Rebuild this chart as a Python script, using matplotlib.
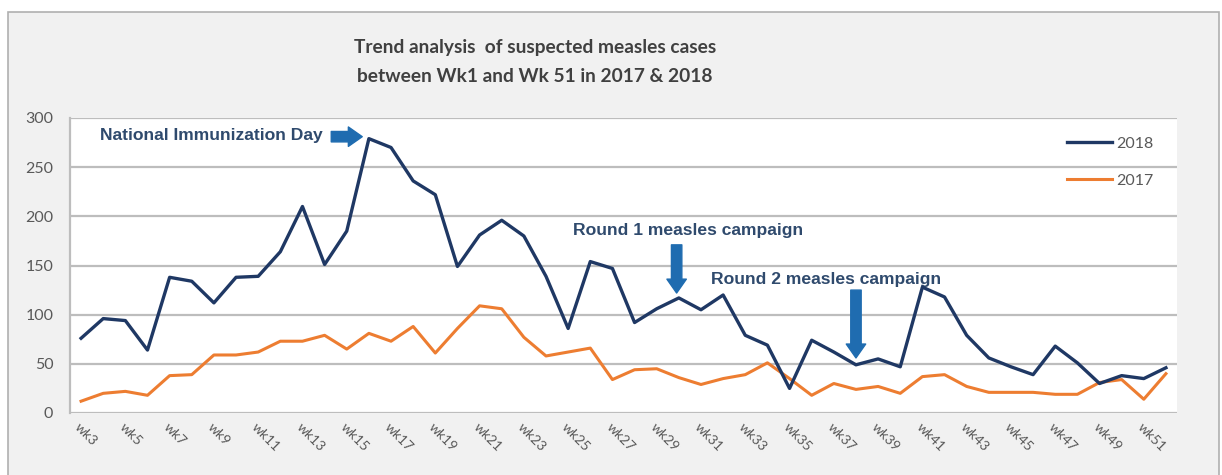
import matplotlib.pyplot as plt
import matplotlib.patches as patches
import numpy as np

# weekly suspected measles cases, wk3 .. wk52
weeks = ["wk%d" % w for w in range(3, 53)]
cases_2018 = [76, 96, 94, 64, 138, 134, 112, 138, 139, 164,
              210, 151, 185, 279, 270, 236, 222, 149, 181, 196,
              180, 139, 86, 154, 147, 92, 106, 117, 105, 120,
              79, 69, 25, 74, 62, 49, 55, 47, 128, 118,
              79, 56, 47, 39, 68, 51, 30, 38, 35, 46]
cases_2017 = [12, 20, 22, 18, 38, 39, 59, 59, 62, 73,
              73, 79, 65, 81, 73, 88, 61, 86, 109, 106,
              77, 58, 62, 66, 34, 44, 45, 36, 29, 35,
              39, 51, 35, 18, 30, 24, 27, 20, 37, 39,
              27, 21, 21, 21, 19, 19, 31, 34, 14, 40]

W, H = 1222, 475
fig = plt.figure(figsize=(W / 100, H / 100), dpi=100)
fig.patch.set_facecolor("white")

# outer chart frame (drawn behind the axes)
frame = patches.Rectangle((8 / W, -0.05), (1219 - 8) / W, 1.05 - 12 / H,
                          transform=fig.transFigure, facecolor="#f1f1f1",
                          edgecolor="#b0b0b0", linewidth=1.2, zorder=-10)
fig.patches.append(frame)

ax = fig.add_axes([70 / W, (H - 413) / H, (1177 - 70) / W, (413 - 118) / H])
ax.set_zorder(1)
ax.set_facecolor("white")

x = np.arange(len(weeks))
ax.plot(x, cases_2017, color="#ed7d31", lw=2.2, label="2017", zorder=3)
ax.plot(x, cases_2018, color="#1f3864", lw=2.4, label="2018", zorder=4)

ax.set_xlim(-0.5, len(weeks) - 0.5)
ax.set_ylim(0, 300)
ax.set_yticks(range(0, 301, 50))
ax.yaxis.grid(True, color="#bdbdbd", lw=1.6)
ax.set_axisbelow(True)
for s in ["top", "right", "bottom"]:
    ax.spines[s].set_visible(False)
ax.spines["left"].set_color("#bdbdbd")
ax.spines["left"].set_linewidth(1.6)
ax.tick_params(length=0)
ax.tick_params(axis="y", pad=12, labelsize=11.5, labelcolor="#595959")

ax.set_xticks(x[::2])
ax.set_xticklabels(weeks[::2], rotation=-45, ha="left", va="top",
                   rotation_mode="anchor", fontsize=10, color="#595959",
                   family="Lato")
for lab in ax.get_yticklabels():
    lab.set_family("Lato")
ax.tick_params(axis="x", pad=6)

# title
fig.text(535 / W, 1 - 48 / H, "Trend analysis  of suspected measles cases",
         ha="center", va="center", fontsize=13.8, fontweight="bold",
         family="Lato", color="#404040")
fig.text(535 / W, 1 - 77 / H, "between Wk1 and Wk 51 in 2017 & 2018",
         ha="center", va="center", fontsize=13.8, fontweight="bold",
         family="Lato", color="#404040")

# annotations
txt_col = "#2f4a6d"
arr_col = "#1f6cb0"
arrow = dict(arrowstyle="simple,head_length=10,head_width=14,tail_width=7.5",
             mutation_scale=1, color=arr_col, shrinkA=0, shrinkB=0)

ax.text(10.9, 282, "National Immunization Day", ha="right", va="center",
        fontsize=12.6, fontweight="bold", color=txt_col, family="Liberation Sans")
ax.annotate("", xy=(12.7, 281), xytext=(11.3, 281), arrowprops=arrow)

ax.text(22.2, 186, "Round 1 measles campaign", ha="left", va="center",
        fontsize=12.6, fontweight="bold", color=txt_col, family="Liberation Sans")
ax.annotate("", xy=(26.9, 122), xytext=(26.9, 171), arrowprops=arrow)

ax.text(28.45, 136, "Round 2 measles campaign", ha="left", va="center",
        fontsize=12.6, fontweight="bold", color=txt_col, family="Liberation Sans")
ax.annotate("", xy=(35.0, 56), xytext=(35.0, 125), arrowprops=arrow)

# legend, 2018 first
h, l = ax.get_legend_handles_labels()
ax.legend(h[::-1], l[::-1], loc="upper right", frameon=False,
          bbox_to_anchor=(1168 / W, 1 - 122 / H), bbox_transform=fig.transFigure,
          handlelength=2.8, handletextpad=0.3, labelspacing=1.45,
          prop={"family": "Lato", "size": 11.5})
for t in ax.get_legend().get_texts():
    t.set_color("#595959")

fig.savefig("out.png", dpi=100)
